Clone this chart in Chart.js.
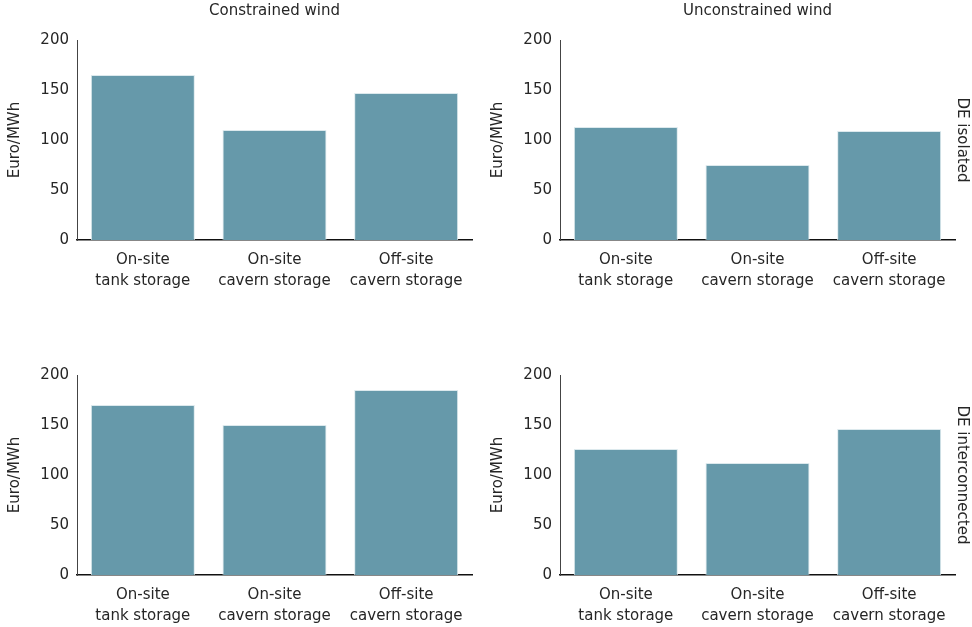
<!DOCTYPE html>
<html>
<head>
<meta charset="utf-8">
<script src="https://cdn.jsdelivr.net/npm/chart.js@4.4.1/dist/chart.umd.min.js"></script>
<style>
  body { margin: 0; background: #fff; }
  .panel { position: absolute; width: 489px; height: 300px; }
</style>
</head>
<body>
<div class="panel" style="left:0;top:0"><canvas id="c1"></canvas></div>
<div class="panel" style="left:483px;top:0"><canvas id="c2"></canvas></div>
<div class="panel" style="left:0;top:335px"><canvas id="c3"></canvas></div>
<div class="panel" style="left:483px;top:335px"><canvas id="c4"></canvas></div>
<script>
const storageTypes = [['On-site', 'tank storage'], ['On-site', 'cavern storage'], ['Off-site', 'cavern storage']];
const yTicks = [0, 50, 100, 150, 200];

const constrainedIsolated = [165, 110, 147];
const unconstrainedIsolated = [113, 75, 109];
const constrainedInterconnected = [170, 150, 185];
const unconstrainedInterconnected = [126, 112, 146];

const barColor = '#6699AA';
const textColor = '#262626';
Chart.defaults.font.family = '"DejaVu Sans", Verdana, sans-serif';
Chart.defaults.font.size = 15;
Chart.defaults.color = textColor;

// draws the column title and the rotated row label of a panel
const panelText = {
  id: 'panelText',
  afterDraw(chart, args, opts) {
    const ctx = chart.ctx;
    const area = chart.chartArea;
    ctx.save();
    ctx.fillStyle = textColor;
    ctx.font = '15px "DejaVu Sans", Verdana, sans-serif';
    ctx.textAlign = 'center';
    ctx.textBaseline = 'middle';
    if (opts.title) {
      ctx.fillText(opts.title, (area.left + area.right) / 2, 11);
    }
    if (opts.row) {
      ctx.translate(479, (area.top + area.bottom) / 2);
      ctx.rotate(Math.PI / 2);
      ctx.fillText(opts.row, 0, 0);
    }
    ctx.restore();
  }
};

function makePanel(id, values, title, row) {
  new Chart(document.getElementById(id), {
    type: 'bar',
    data: {
      labels: storageTypes,
      datasets: [{
        data: values,
        backgroundColor: barColor,
        borderColor: '#dce9ed',
        borderWidth: 1,
        categoryPercentage: 0.79,
        barPercentage: 1
      }]
    },
    options: {
      responsive: false,
      animation: false,
      layout: { padding: { top: 40, right: 17, left: 0, bottom: 0 } },
      plugins: {
        legend: { display: false },
        tooltip: { enabled: false },
        panelText: { title: title, row: row }
      },
      scales: {
        x: {
          grid: { display: false, drawTicks: true, tickLength: 5, tickColor: '#262626' },
          border: { color: '#111', width: 1.5 },
          ticks: { padding: 5, font: { size: 15, lineHeight: 1.4 } },
          afterFit: (s) => { s.height = 60; }
        },
        y: {
          min: 0,
          max: 200,
          afterBuildTicks: (s) => { s.ticks = yTicks.map(v => ({ value: v })); },
          grid: { display: false, drawTicks: true, tickLength: 5, tickColor: '#444' },
          border: { color: '#444', width: 1 },
          ticks: { padding: 3, font: { size: 15 } },
          title: { display: true, text: 'Euro/MWh', font: { size: 15 }, padding: { top: 6, bottom: 0 } },
          afterFit: (s) => { s.width = 77; }
        }
      }
    },
    plugins: [panelText]
  });
}

document.querySelectorAll('canvas').forEach(c => { c.width = 489; c.height = 300; });
makePanel('c1', constrainedIsolated, 'Constrained wind', null);
makePanel('c2', unconstrainedIsolated, 'Unconstrained wind', 'DE isolated');
makePanel('c3', constrainedInterconnected, null, null);
makePanel('c4', unconstrainedInterconnected, null, 'DE interconnected');
</script>
</body>
</html>
